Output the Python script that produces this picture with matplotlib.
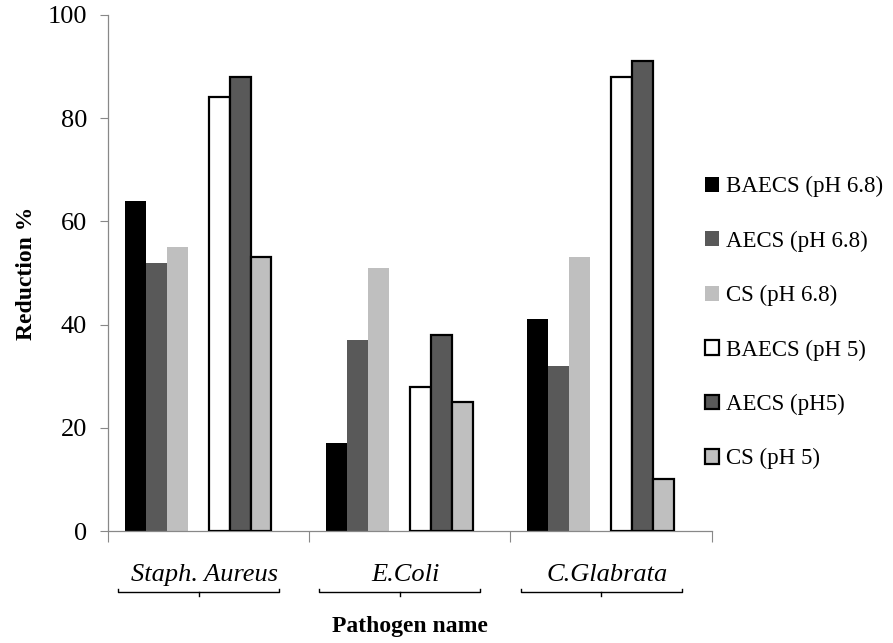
import numpy as np
import matplotlib
matplotlib.use('Agg')
import matplotlib.pyplot as plt
from matplotlib.patches import Patch

# Datos
patogenos = ['Staph. Aureus', 'E.Coli', 'C.Glabrata']
series = ['BAECS (pH 6.8)', 'AECS (pH 6.8)', 'CS (pH 6.8)',
          'BAECS (pH 5)', 'AECS (pH5)', 'CS (pH 5)']
baecs_68 = [64, 17, 41]
aecs_68 = [52, 37, 32]
cs_68 = [55, 51, 53]
baecs_5 = [84, 28, 88]
aecs_5 = [88, 38, 91]
cs_5 = [53, 25, 10]

valores = [baecs_68, aecs_68, cs_68, baecs_5, aecs_5, cs_5]
colores = ['#000000', '#595959', '#bfbfbf', '#ffffff', '#595959', '#bfbfbf']
bordes = [False, False, False, True, True, True]
# posición de cada serie dentro del grupo (hueco en la 4ª y 8ª)
slots = [0, 1, 2, 4, 5, 6]

plt.rcParams['font.family'] = ['Liberation Serif', 'DejaVu Serif']

fig = plt.figure(figsize=(8.93, 6.43), dpi=100)
ax = fig.add_axes([0.121, 0.174, 0.676, 0.803])

ancho = 0.104
x = np.arange(len(patogenos)) + 0.5
for vals, col, borde, s in zip(valores, colores, bordes, slots):
    pos = x + (s - 3.5) * ancho
    if borde:
        ax.bar(pos, vals, width=ancho, color=col, edgecolor='black',
               linewidth=1.6, zorder=3)
    else:
        ax.bar(pos, vals, width=ancho, color=col, linewidth=0, zorder=2)

ax.set_xlim(0, 3)
ax.set_ylim(0, 100)
ax.set_yticks(range(0, 101, 20))
ax.tick_params(axis='y', labelsize=19, length=6, color='#888888', pad=9)
ax.set_xticks(range(0, 4))
ax.set_xticklabels([])
ax.tick_params(axis='x', length=8, color='#888888')
for lado in ['top', 'right']:
    ax.spines[lado].set_visible(False)
for lado in ['left', 'bottom']:
    ax.spines[lado].set_color('#888888')
    ax.spines[lado].set_linewidth(0.9)

# etiquetas de categoría con llaves
trans = ax.get_xaxis_transform()
for i, nombre in enumerate(patogenos):
    ax.text(i + 0.48, -0.085, nombre, transform=trans, ha='center',
            va='center', fontsize=19, style='italic')
    a, b = i + 0.05, i + 0.85
    m = (a + b) / 2
    y0 = -0.118
    ax.plot([a, a, b, b], [y0 + 0.006, y0, y0, y0 + 0.006], transform=trans,
            color='black', lw=1, clip_on=False)
    ax.plot([m, m], [y0, y0 - 0.007], transform=trans, color='black', lw=1,
            clip_on=False)

fig.text(0.459, 0.025, 'Pathogen name', ha='center', va='center',
         fontsize=17, fontweight='bold')
ax.set_ylabel('Reduction %', fontsize=17, fontweight='bold', labelpad=8)

handles = []
for nombre, col, borde in zip(series, colores, bordes):
    if borde:
        handles.append(Patch(facecolor=col, edgecolor='black', linewidth=1.6, label=nombre))
    else:
        handles.append(Patch(facecolor=col, edgecolor='none', label=nombre))
fig.legend(handles=handles, loc='center left', bbox_to_anchor=(0.789, 0.498),
           frameon=False, fontsize=16.5, handlelength=0.62, handleheight=0.62,
           handletextpad=0.3, labelspacing=1.45, borderpad=0, borderaxespad=0)

fig.savefig('out.png', dpi=100)
